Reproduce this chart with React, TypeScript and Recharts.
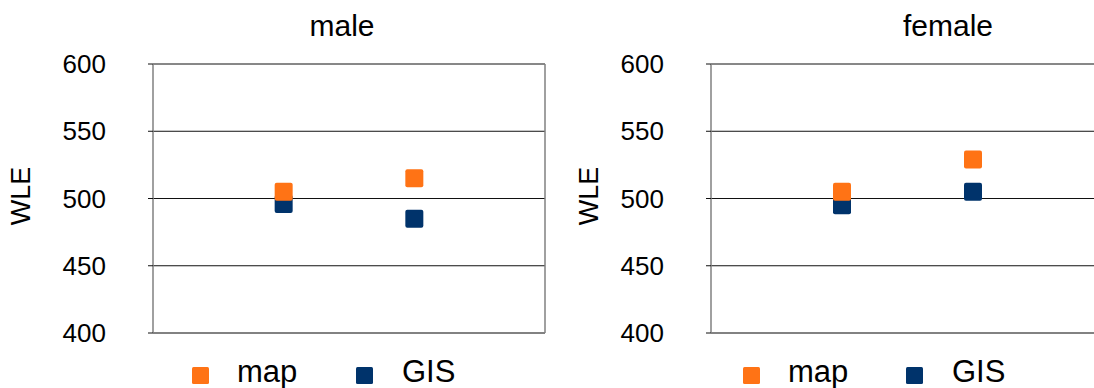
import React from "react"
import { CartesianGrid, ReferenceLine, Scatter, ScatterChart, XAxis, YAxis } from "recharts"

// two unlabeled groups per panel, placed at x = 1 and x = 2 on a 0..3 axis
const groups = [1, 2]
const maleMap = [505, 515]
const maleGis = [496, 485]
const femaleMap = [505, 529]
const femaleGis = [495, 505]
const yTicks = [400, 450, 500, 550, 600]
const xTicks = [0, 1, 2, 3]

const ORANGE = "#ff7315"
const NAVY = "#00336b"
const FONT = "'Liberation Sans', Arial, Helvetica, sans-serif"

const toPoints = (values: number[]) => groups.map((g, i) => ({ x: g, y: values[i] }))

const square = (fill: string) => (props: any) => (
  <rect x={props.cx - 9} y={props.cy - 9} width={18} height={18} rx={2} fill={fill} />
)

function Panel({
  left,
  map,
  gis,
  marginLeft,
  marginRight,
  border,
}: {
  left: number
  map: number[]
  gis: number[]
  marginLeft: number
  marginRight: number
  border: boolean
}) {
  return (
    <div style={{ position: "absolute", left, top: 0, width: 560, height: 388 }}>
      <ScatterChart
        width={560}
        height={388}
        margin={{ top: 64, right: marginRight, bottom: 25, left: marginLeft }}
      >
        <CartesianGrid vertical={false} stroke="#111" />
        <XAxis
          type="number"
          dataKey="x"
          domain={[0, 3]}
          ticks={xTicks}
          tick={false}
          tickSize={6}
          height={30}
          axisLine={{ stroke: "#808080", strokeWidth: 1.5 }}
          tickLine={{ stroke: "#333" }}
        />
        <YAxis
          type="number"
          dataKey="y"
          domain={[400, 600]}
          ticks={yTicks}
          width={153}
          tickSize={5}
          tickMargin={42}
          tick={{ fontSize: 26, fill: "#000", fontFamily: FONT }}
          axisLine={{ stroke: "#808080", strokeWidth: 1.5 }}
          tickLine={{ stroke: "#111" }}
        />
        {border && <ReferenceLine x={3} stroke="#808080" strokeWidth={1.5} />}
        <Scatter data={toPoints(gis)} shape={square(NAVY)} isAnimationActive={false} />
        <Scatter data={toPoints(map)} shape={square(ORANGE)} isAnimationActive={false} />
      </ScatterChart>
    </div>
  )
}

function LegendItems({ x }: { x: number[] }) {
  return (
    <g fontFamily={FONT} fontSize={31} fill="#000">
      <rect x={x[0]} y={367} width={17} height={17} rx={1.5} fill={ORANGE} />
      <text x={x[1]} y={382}>map</text>
      <rect x={x[2]} y={367} width={17} height={17} rx={1.5} fill={NAVY} />
      <text x={x[3]} y={382}>GIS</text>
    </g>
  )
}

export default function App() {
  return (
    <div
      style={{
        position: "absolute",
        left: 0,
        top: 0,
        width: 1094,
        height: 388,
        overflow: "hidden",
        background: "#fff",
      }}
    >
      <Panel left={0} map={maleMap} gis={maleGis} marginLeft={0} marginRight={15} border />
      <Panel
        left={560}
        map={femaleMap}
        gis={femaleGis}
        marginLeft={-2}
        marginRight={16}
        border={false}
      />
      <svg
        width={1094}
        height={388}
        style={{ position: "absolute", left: 0, top: 0, pointerEvents: "none" }}
      >
        <g fontFamily={FONT} fill="#000">
          <text x={342} y={36} fontSize={30} textAnchor="middle">male</text>
          <text x={948} y={36} fontSize={30} textAnchor="middle">female</text>
          <text x={30} y={196} fontSize={27} textAnchor="middle" transform="rotate(-90 30 196)">WLE</text>
          <text x={598} y={196} fontSize={27} textAnchor="middle" transform="rotate(-90 598 196)">WLE</text>
        </g>
        <LegendItems x={[192, 237, 356, 402]} />
        <LegendItems x={[743, 788, 906, 952]} />
      </svg>
    </div>
  )
}
